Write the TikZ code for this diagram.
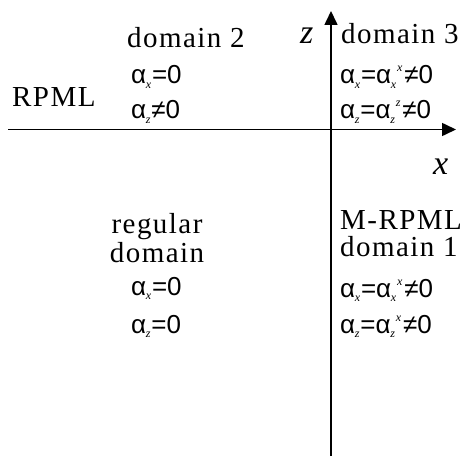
\documentclass[tikz,border=0pt]{standalone}
\usepackage{fontspec}
\setmainfont{Liberation Serif}
\newfontfamily\sansf{Liberation Sans}
\newfontfamily\serifsp[LetterSpace=5]{Liberation Serif}
\usetikzlibrary{arrows.meta}
\newcommand\sbx[1]{\raisebox{-4.5pt}{\fontsize{12}{12}\rmfamily\itshape #1}\kern0.8pt}
\newcommand\spx[1]{\raisebox{12pt}{\fontsize{12}{12}\rmfamily\itshape #1}\kern2pt}
\newcommand\al[1]{α\kern-0.3pt\sbx{#1}}
\begin{document}
\begin{tikzpicture}[x=1pt,y=-1pt,
  lbl/.style={inner sep=0pt, anchor=base west, font=\fontsize{29}{29}\serifsp},
  eq/.style={inner sep=0pt, anchor=base west, font=\fontsize{26}{26}\sansf},
  axlbl/.style={inner sep=0pt, anchor=base west, font=\fontsize{34}{34}\rmfamily\itshape},
  ax/.style={line width=1.6pt, -{Triangle[length=14pt,width=13pt]}}]
\useasboundingbox (0,0) rectangle (462,457);
\coordinate (xs) at (8,129.5);
\coordinate (xe) at (456,129.5);
\coordinate (zs) at (331,456);
\coordinate (ze) at (331,11);
\draw[ax] (xs) -- (xe);
\draw[ax] (zs) -- (ze);
\node[axlbl] (zl) at (300,44) {z};
\node[axlbl] (xl) at (433,174) {x};
\node[lbl] (rpml) at (12,107) {RPML};
\node[lbl] (d2) at (127,48) {domain 2};
\node[eq] (d2a) at (131,84) {\al{x}=0};
\node[eq] (d2b) at (131,119) {\al{z}≠0};
\node[lbl] (d3) at (341,44) {domain 3};
\node[eq] (d3a) at (340,84) {\al{x}=\al{x}\spx{x}≠0};
\node[eq] (d3b) at (340,119) {\al{z}=\al{z}\spx{z}≠0};
\node[lbl] (mr) at (340,229) {M-RPML};
\node[lbl] (d1) at (340,256) {domain 1};
\node[eq] (d1a) at (340,297) {\al{x}=\al{x}\spx{x}≠0};
\node[eq] (d1b) at (340,333) {\al{z}=\al{z}\spx{x}≠0};
\node[lbl, anchor=base] (rg) at (157,233) {regular};
\node[lbl, anchor=base] (rd) at (157,262) {domain};
\node[eq] (ra) at (131,295) {\al{x}=0};
\node[eq] (rb) at (131,333) {\al{z}=0};
\end{tikzpicture}
\end{document}
